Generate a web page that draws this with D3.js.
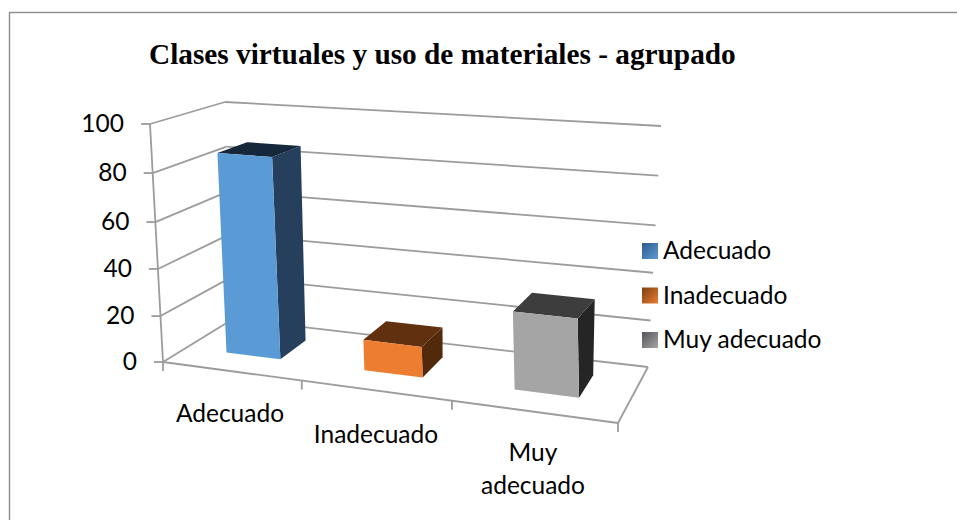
<!DOCTYPE html>
<html lang="en">
<head>
<meta charset="utf-8">
<title>Clases virtuales y uso de materiales</title>
<script src="https://d3js.org/d3.v7.min.js"></script>
<style>
  html,body{margin:0;padding:0;background:#fff;}
  svg{display:block;}
  text{font-family:Lato,"Open Sans",sans-serif;fill:#000;}
  .title{font-family:"Liberation Serif",serif;font-weight:bold;font-size:29.3px;}
</style>
</head>
<body>
<div id="chart"></div>
<script>
// values
var categories = ["Adecuado","Inadecuado","Muy adecuado"]
var values = [86,13,32]
var valueTicks = [0,20,40,60,80,100]
var frontColors = ["#5b9bd5","#ed7d31","#a5a5a5"]
var sideColors = ["#263f5c","#53290c","#252525"]
var topColors = ["#15273b","#61300e","#3d3d3d"]
var legendDark = ["#2f5a8c","#7a3f14","#55555a"]

var w = 957, h = 520

var svg = d3.select("#chart").append("svg").attr("width",w).attr("height",h)

// corners of the 3d box as they land on the screen
var FLB=[163,362], FLT=[150,124], FRB=[618,423], FRT=[606,158]
var BLB=[233,319], BLT=[225,102], BRB=[648,367], BRT=[661,126]

// x goes along the categories, a little wider to the right because of perspective
var xScale = d3.scaleLinear().domain([0,1,2,3]).range([0,0.305,0.635,1])
// same for the value axis, gridlines are not quite evenly spaced
var yScale = d3.scaleLinear().domain(valueTicks).range([0,0.193,0.391,0.588,0.794,1])

function mix(a,b,t){ return [a[0]+(b[0]-a[0])*t, a[1]+(b[1]-a[1])*t] }

// c = category position, v = value, d = depth (0 front, 1 back)
function project(c,v,d){
  var x = xScale(c), y = yScale(v)
  var front = mix(mix(FLB,FRB,x),mix(FLT,FRT,x),y)
  var back = mix(mix(BLB,BRB,x),mix(BLT,BRT,x),y)
  return mix(front,back,d)
}

var line = d3.line()
var gridColor = "#9c9c9c"

function drawLine(a,b,width){
  svg.append("path").attr("d",line([a,b])).attr("fill","none")
    .attr("stroke",gridColor).attr("stroke-width",width||1.8)
}

svg.append("rect").attr("x",9.5).attr("y",12.5).attr("width",w).attr("height",h)
  .attr("fill","none").attr("stroke","#8c8c8c").attr("stroke-width",1.4)

svg.append("text").attr("class","title").attr("x",149).attr("y",63.5)
  .text("Clases virtuales y uso de materiales - agrupado")

// walls
valueTicks.forEach(function(t){
  drawLine(project(0,t,0),project(0,t,1))
  drawLine(project(0,t,1),project(3,t,1))
  var p = project(0,t,0)
  drawLine([p[0]-9,p[1]],p)
  svg.append("text").attr("x",p[0]-26).attr("y",p[1]+8).attr("text-anchor","end")
    .attr("font-size",24.5).text(t)
})
drawLine(project(0,0,0),project(0,100,0))

// floor edge
drawLine(project(0,0,0),project(3,0,0))
drawLine(project(3,0,0),project(3,0,1))
d3.range(0,4).forEach(function(c){
  var p = project(c,0,0)
  drawLine(p,[p[0],p[1]+9])
})

// bars, each one drawn side + top + front
var barLeft = 0.295, barRight = 0.695, depthFront = 0.34, depthBack = 0.75
var poly = function(pts){ return line(pts)+"Z" }

values.forEach(function(v,i){
  var l = i+barLeft, r = i+barRight
  var g = svg.append("g")
  g.append("path").attr("fill",sideColors[i])
    .attr("d",poly([project(r,0,depthFront),project(r,v,depthFront),project(r,v,depthBack),project(r,0,depthBack)]))
  g.append("path").attr("fill",topColors[i])
    .attr("d",poly([project(l,v,depthFront),project(r,v,depthFront),project(r,v,depthBack),project(l,v,depthBack)]))
  g.append("path").attr("fill",frontColors[i])
    .attr("d",poly([project(l,0,depthFront),project(r,0,depthFront),project(r,v,depthFront),project(l,v,depthFront)]))
})

// category labels
var catX = [230,376,533]
var catY = [[422],[443],[461,494]]
var catLines = [["Adecuado"],["Inadecuado"],["Muy","adecuado"]]
catLines.forEach(function(ls,i){
  ls.forEach(function(s,j){
    svg.append("text").attr("x",catX[i]).attr("y",catY[i][j]).attr("text-anchor","middle")
      .attr("font-size",24.5).text(s)
  })
})

// legend
var defs = svg.append("defs")
categories.forEach(function(c,i){
  var g = defs.append("linearGradient").attr("id","leg"+i)
    .attr("x1",0).attr("y1",0).attr("x2",1).attr("y2",1)
  g.append("stop").attr("offset",0).attr("stop-color",legendDark[i])
  g.append("stop").attr("offset",1).attr("stop-color",frontColors[i])
  var y = 243+i*44.5
  svg.append("rect").attr("x",642).attr("y",y).attr("width",16).attr("height",16)
    .attr("fill","url(#leg"+i+")")
  svg.append("text").attr("x",663).attr("y",y+16).attr("font-size",24.5).text(c)
})
</script>
</body>
</html>
